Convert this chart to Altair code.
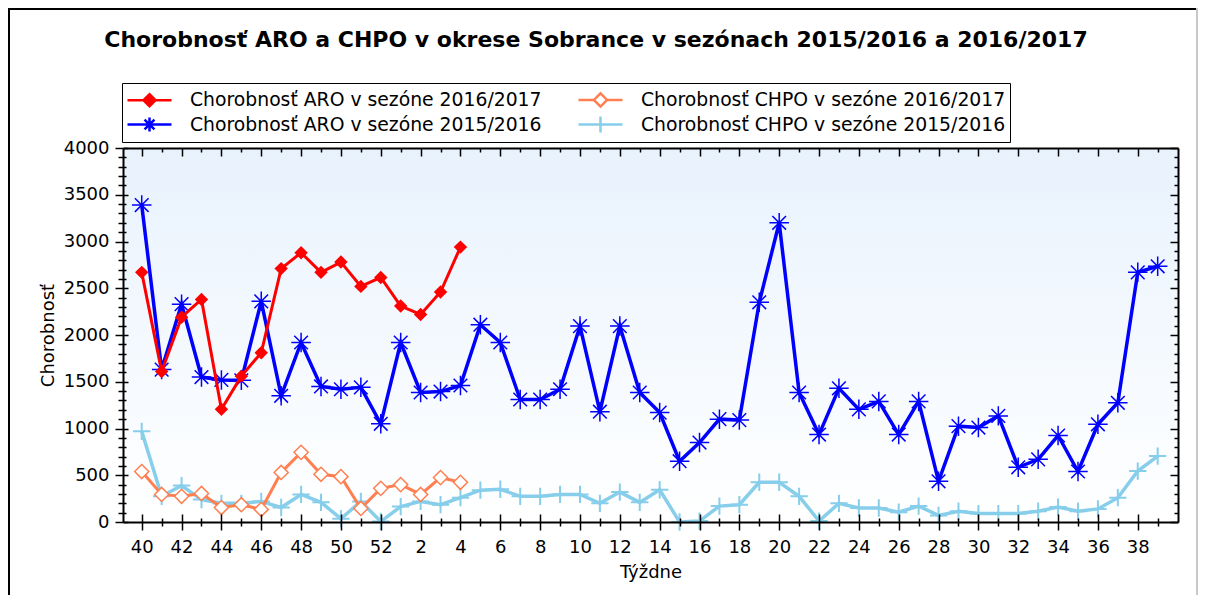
import altair as alt
import pandas as pd

# ---------------- data ----------------
weeks = list(range(40, 53)) + list(range(1, 40))

aro_1617 = [2670, 1610, 2190, 2380, 1205, 1560, 1810, 2710, 2880, 2670, 2780, 2520,
            2615, 2310, 2220, 2460, 2940]
chpo_1617 = [540, 295, 275, 305, 155, 185, 135, 530, 745, 510, 485, 145, 360, 400,
             295, 475, 425]
aro_1516 = [3390, 1630, 2330, 1550, 1520, 1515, 2360, 1350, 1920, 1450, 1420, 1440,
            1050, 1920, 1385, 1395, 1460, 2110, 1920, 1310, 1310, 1420, 2095, 1180,
            2095, 1385, 1170, 650, 850, 1100, 1090, 2350, 3200, 1385, 935, 1430, 1205,
            1290, 935, 1290, 435, 1025, 1010, 1135, 585, 670, 925, 540, 1045, 1275,
            2670, 2735]
chpo_1516 = [970, 275, 390, 240, 200, 200, 220, 155, 295, 210, 35, 220, 5, 165, 220,
             185, 260, 340, 350, 275, 275, 295, 295, 200, 320, 210, 345, 0, 10, 170,
             185, 425, 425, 275, 10, 200, 150, 150, 105, 170, 70, 115, 90, 90, 90, 115,
             160, 115, 140, 260, 545, 705]

TITLE = "Chorobnosť ARO a CHPO v okrese Sobrance v sezónach 2015/2016 a 2016/2017"
S_ARO_17 = "Chorobnosť ARO v sezóne 2016/2017"
S_CHPO_17 = "Chorobnosť CHPO v sezóne 2016/2017"
S_ARO_16 = "Chorobnosť ARO v sezóne 2015/2016"
S_CHPO_16 = "Chorobnosť CHPO v sezóne 2015/2016"

series_order = [S_ARO_17, S_CHPO_17, S_ARO_16, S_CHPO_16]
series_values = {S_ARO_17: aro_1617, S_CHPO_17: chpo_1617,
                 S_ARO_16: aro_1516, S_CHPO_16: chpo_1516}

C_RED, C_ORANGE, C_BLUE, C_SKY = "#FF0000", "#FF7F50", "#0000FF", "#87CEEB"
stroke_range = [C_RED, C_ORANGE, C_BLUE, C_SKY]
fill_range = [C_RED, "#FFFFFF", C_BLUE, C_SKY]

rows = []
for name, vals in series_values.items():
    for i, v in enumerate(vals):
        rows.append({"idx": i, "week": weeks[i], "value": v, "series": name})
df = pd.DataFrame(rows)

# ---------------- geometry / styles ----------------
W, H = 1055, 374
FONT = "DejaVu Sans"

xs = alt.Scale(domain=[-0.94, 52.02], nice=False, zero=False)
ys = alt.Scale(domain=[0, 4000], nice=False)
x_ticks = list(range(len(weeks)))
y_ticks = list(range(0, 4001, 100))

x_major = "datum.value % 2 == 0"
y_major = "datum.value % 500 == 0"
x_label_expr = ("datum.value % 2 == 0 ? (datum.value <= 12 ? toString(datum.value + 40)"
                " : toString(datum.value - 12)) : ''")


def tsize(test, big, small):
    return {"condition": {"test": test, "value": big}, "value": small}


common_axis = dict(grid=False, tickColor="black", tickWidth=1.5, domainColor="black",
                   domainWidth=2, zindex=1, labelFlush=False, labelOverlap=False)

ax_bottom = alt.Axis(orient="bottom", values=x_ticks, labelExpr=x_label_expr,
                     tickSize=tsize(x_major, 8, 4), labelFont=FONT, labelFontSize=18,
                     labelColor="black", labelPadding=8, title="Týždne",
                     titleFont=FONT, titleFontSize=18, titleFontWeight="normal",
                     titleColor="black", titlePadding=7, **common_axis)
ax_left = alt.Axis(orient="left", values=y_ticks, format="d",
                   labelExpr="datum.value % 500 == 0 ? datum.label : ''",
                   tickSize=tsize(y_major, 8, 5), labelFont=FONT, labelFontSize=18,
                   labelColor="black", labelPadding=6, title="Chorobnosť",
                   titleFont=FONT, titleFontSize=18, titleFontWeight="normal",
                   titleColor="black", titlePadding=6, **common_axis)
# inward tick marks on the other sides of the frame
ax_bottom_in = alt.Axis(orient="top", offset=-H, values=x_ticks, labels=False,
                        domain=False, title=None, tickSize=tsize(x_major, 8, 4),
                        **common_axis)
ax_top_in = alt.Axis(orient="bottom", offset=-H, values=x_ticks, labels=False,
                     domain=True, title=None, tickSize=tsize(x_major, 8, 4),
                     **common_axis)
ax_left_in = alt.Axis(orient="right", offset=-W, values=y_ticks, labels=False,
                      domain=False, title=None, tickSize=tsize(y_major, 5, 3),
                      **common_axis)
ax_right_in = alt.Axis(orient="left", offset=-W, values=y_ticks, labels=False,
                       domain=True, title=None, tickSize=tsize(y_major, 8, 4),
                       **common_axis)

X0 = alt.X("idx:Q", scale=xs, axis=None)
Y0 = alt.Y("value:Q", scale=ys, axis=None)

base = alt.Chart(df)
one = alt.Chart(pd.DataFrame({"a": [0]}))

# background gradient of the plot area
bg = one.mark_rect(
    color=alt.Gradient(gradient="linear",
                       stops=[alt.GradientStop(color="#FFFFFF", offset=0),
                              alt.GradientStop(color="#E8F2FD", offset=1)],
                       x1=0, x2=0, y1=1, y2=0)
).encode(x=alt.value(0), x2=alt.value(W), y=alt.value(0), y2=alt.value(H))

# outer frame of the picture
frame_top = one.mark_rule(color="black", strokeWidth=2).encode(
    x=alt.value(-115), x2=alt.value(1074), y=alt.value(-139))
frame_left = one.mark_rule(color="black", strokeWidth=2).encode(
    x=alt.value(-114), y=alt.value(-140), y2=alt.value(460))
frame_right = one.mark_rule(color="#C8C8C8", strokeWidth=2).encode(
    x=alt.value(1074), y=alt.value(-140), y2=alt.value(460))

# chart title
title = one.mark_text(text=TITLE, font=FONT, fontSize=22, fontWeight="bold",
                      color="black", align="center", baseline="middle").encode(
    x=alt.value(473), y=alt.value(-108))


def sel(name):
    return base.transform_filter(alt.datum.series == name)


ASTER = "M-1,0H1M0,-1V1M-0.7,-0.7L0.7,0.7M-0.7,0.7L0.7,-0.7"
PLUS = "M-1,0H1M0,-1V1"

l_sky = sel(S_CHPO_16).mark_line(color=C_SKY, strokeWidth=3.5).encode(x=X0, y=Y0)
p_sky = sel(S_CHPO_16).mark_point(shape=PLUS, filled=False, color=C_SKY, strokeWidth=2,
                                   size=300, opacity=1).encode(x=X0, y=Y0)
l_blue = sel(S_ARO_16).mark_line(color=C_BLUE, strokeWidth=3.5).encode(x=X0, y=Y0)
p_blue = sel(S_ARO_16).mark_point(shape=ASTER, filled=False, color=C_BLUE,
                                   strokeWidth=1.5, size=380, opacity=1).encode(x=X0, y=Y0)
l_orange = sel(S_CHPO_17).mark_line(color=C_ORANGE, strokeWidth=3).encode(x=X0, y=Y0)
p_orange = sel(S_CHPO_17).mark_point(shape="diamond", filled=True, fill="#FFFFFF",
                                     stroke=C_ORANGE, strokeWidth=1.5, size=200,
                                     opacity=1).encode(x=X0, y=Y0)
l_red = sel(S_ARO_17).mark_line(color=C_RED, strokeWidth=3).encode(x=X0, y=Y0)
p_red = sel(S_ARO_17).mark_point(shape="diamond", filled=True, color=C_RED, size=180,
                                  opacity=1).encode(x=X0, y=Y0)

# legend (line + marker symbols); unit = 11 px
legend_paths = [
    "M-2,0H2M0,-0.55L0.55,0L0,0.55L-0.55,0Z",
    "M-2,0H-0.6M0.6,0H2M0,-0.6L0.6,0L0,0.6L-0.6,0Z",
    "M-2,0H2M-0.64,0H0.64M0,-0.64V0.64M-0.45,-0.45L0.45,0.45M-0.45,0.45L0.45,-0.45",
    "M-2,0H2M0,-0.72V0.72",
]
leg = alt.Legend(title=None, orient="none", legendX=-1, legendY=-65, columns=2,
                 direction="horizontal",
                 symbolSize=484, symbolOffset=11, symbolStrokeWidth=2.5, symbolOpacity=1,
                 labelFont=FONT, labelFontSize=18.8, labelColor="black", labelLimit=700,
                 labelOffset=28, columnPadding=31, rowPadding=-2, padding=4,
                 strokeColor="black", fillColor="#FFFFFF")
legend_layer = base.transform_filter("false").mark_point(filled=False, opacity=1).encode(
    x=X0, y=Y0,
    stroke=alt.Stroke("series:N", scale=alt.Scale(domain=series_order, range=stroke_range),
                      legend=leg),
    fill=alt.Fill("series:N", scale=alt.Scale(domain=series_order, range=fill_range),
                  legend=leg),
    shape=alt.Shape("series:N", scale=alt.Scale(domain=series_order, range=legend_paths),
                    legend=leg),
)

empty = base.transform_filter("false").mark_point(opacity=0)
axes_main = empty.encode(x=alt.X("idx:Q", scale=xs, axis=ax_bottom),
                         y=alt.Y("value:Q", scale=ys, axis=ax_left))
axes_bx = empty.encode(x=alt.X("idx:Q", scale=xs, axis=ax_bottom_in), y=Y0)
axes_tx = empty.encode(x=alt.X("idx:Q", scale=xs, axis=ax_top_in), y=Y0)
axes_ly = empty.encode(x=X0, y=alt.Y("value:Q", scale=ys, axis=ax_left_in))
axes_ry = empty.encode(x=X0, y=alt.Y("value:Q", scale=ys, axis=ax_right_in))

chart = alt.layer(
    bg, frame_top, frame_left, frame_right, title,
    l_sky, p_sky, l_blue, p_blue, l_orange, p_orange, l_red, p_red,
    legend_layer, axes_main, axes_bx, axes_tx, axes_ly, axes_ry,
).resolve_axis(x="independent", y="independent").properties(
    width=W, height=H,
    autosize=alt.AutoSizeParams(type="none"),
    padding={"left": 115, "top": 140, "right": 20, "bottom": 73},
).configure_view(stroke=None).configure(background="#FFFFFF")

chart.save("out.html", embed_options={"renderer": "svg", "actions": False})
